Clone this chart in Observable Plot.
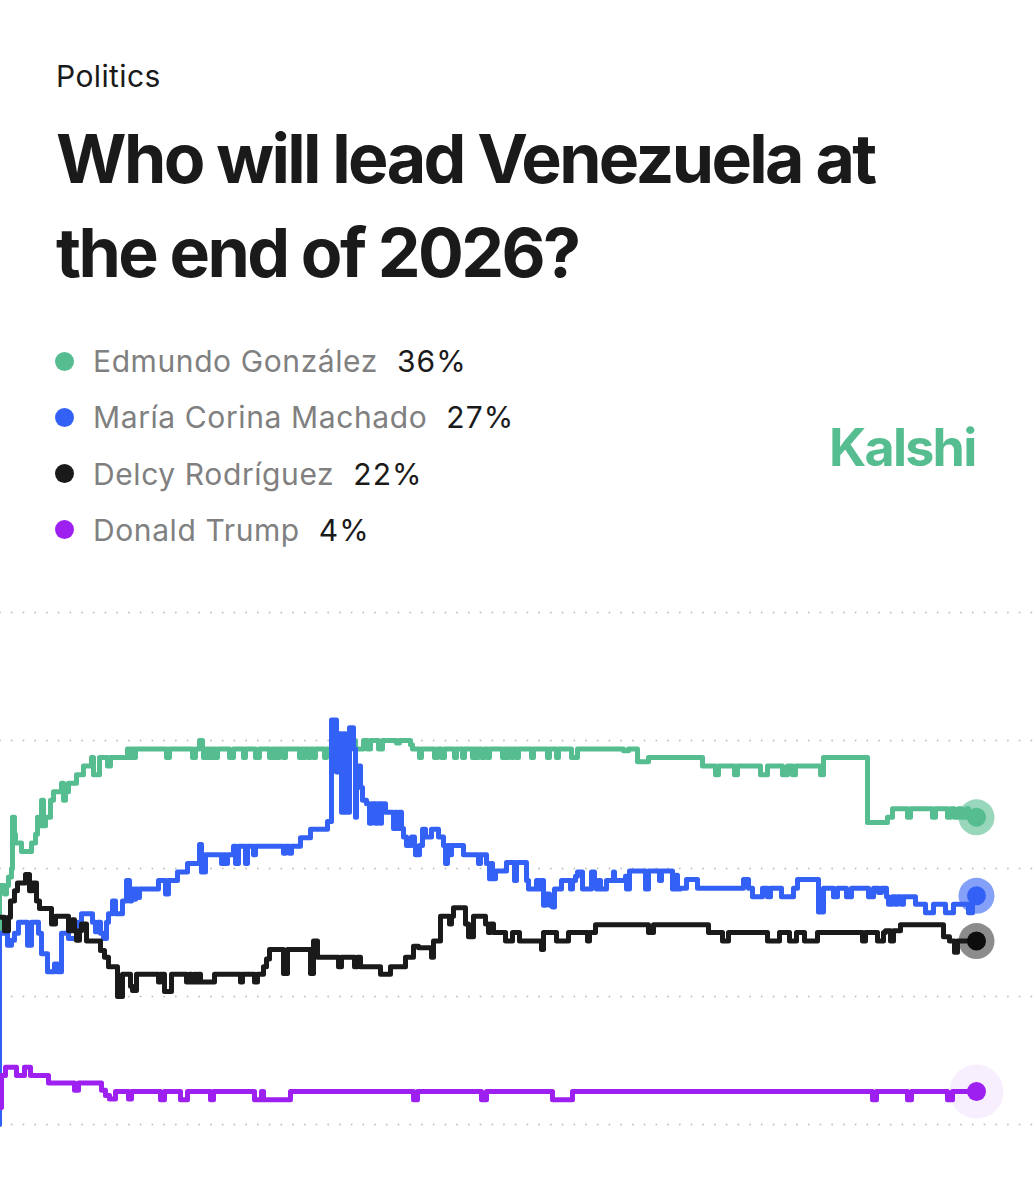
<!DOCTYPE html>
<html>
<head>
<meta charset="utf-8">
<script src="https://cdn.jsdelivr.net/npm/d3@7"></script>
<script src="https://cdn.jsdelivr.net/npm/@observablehq/plot@0.6"></script>
<style>
html,body{margin:0;padding:0;background:#fff;overflow:hidden}
body{position:relative;width:1033px;height:1200px;font-family:Inter,"Noto Sans",sans-serif;color:#1a1a1a}
.abs{position:absolute;white-space:nowrap}
#chart{position:absolute;left:0;top:590px}
#chart svg{display:block;background:transparent}
</style>
</head>
<body>
<div class="abs" style="left:56px;top:58px;font-size:30px;line-height:36px;letter-spacing:.4px">Politics</div>
<div class="abs" id="title" style="left:56px;top:111px;font-size:68px;line-height:94px;font-weight:700;letter-spacing:-2.62px;color:#1a1a1a">Who will lead Venezuela at<br>the end of 2026?</div>
<div id="legend"></div>
<div class="abs" style="left:829px;top:416px;font-size:52px;line-height:64px;font-weight:700;letter-spacing:-1.8px;color:#55bd8f">Kalshi</div>
<div id="chart"></div>
<script>
const names = ["Edmundo González", "María Corina Machado", "Delcy Rodríguez", "Donald Trump"];
const shares = ["36%", "27%", "22%", "4%"];
const colors = ["#55bd8f", "#3461f5", "#1a1a1a", "#9d20f0"];
const endValues = [36, 26.8, 21.5, 3.86];
const ringOpacity = [0.6, 0.6, 0.5, 0.07];
const ringRadius = [18, 18, 18, 27];
const gridValues = [0, 15, 30, 45, 60];

const gonzalez = [[-2,0],[-1,28],[4,27],[6,28],[8,29],[11,30],[12,36],[14,34],[15,33],[21,32],[31,33],[35,34],[37,36],[40,35],[41,38],[43,35],[45,36],[50,38],[53,39],[61,40],[63,38],[65,39],[68,40],[76,41],[83,42],[91,43],[93,41],[99,43],[107,42],[110,43],[127,44],[129,43],[131,44],[133,43],[135,44],[166,43],[169,44],[192,43],[195,44],[199,45],[202,44],[203,43],[205,44],[207,43],[209,44],[211,43],[213,44],[215,43],[217,44],[229,43],[233,44],[243,43],[245,44],[255,43],[259,44],[269,43],[271,44],[273,43],[275,44],[277,43],[279,44],[283,43],[285,44],[299,43],[301,44],[303,43],[305,44],[308,43],[310,44],[313,43],[315,44],[324,43],[326,44],[340,45],[355,44],[363,45],[367,44],[370,45],[378,44],[382,45],[396,44.7],[399,45],[410,44.5],[412,44],[419,43],[421,44],[434,43],[437,44],[441,43],[444,44],[454,43],[456,44],[462,43],[464,44],[472,43],[474,44],[476,43],[478,44],[481,43],[484,44],[487,43],[489,44],[502,43],[504,44],[506,43],[508,44],[511,43],[513,44],[516,43],[518,44],[531,43],[533,44],[547,43],[549,44],[556,43],[558,44],[571,43],[577,44],[623,43.8],[628,44],[637,42.5],[648,43],[702,42],[715,41],[718,42],[734,41],[737,42],[760,41],[767,42],[782,41],[787,42],[792,41],[795,42],[820,41],[823,43],[867,35.4],[887,36],[892,37],[907,36],[910,37],[932,36],[935,37],[947,36],[950,37],[954,36],[958,37],[961,36],[966,37],[968,36],[976,36]];

const machado = [[-2,0],[-1,22.4],[7,21],[11,21.6],[14,22.4],[18,23.7],[27,21],[31,23.7],[38,22.4],[41,20],[47,17.9],[54,18.8],[57,17.9],[61,22.4],[68,21.8],[78,23.7],[81,24.7],[92,23.7],[95,22.6],[97,23.7],[100,22.4],[103,21.8],[106,23.7],[108,24.7],[112,26.2],[115,24.7],[118,24.7],[122,26.2],[126,28.6],[129,26.2],[131,27.6],[133,26.4],[135,27.6],[137,26.6],[139,27.6],[158,28.6],[165,27],[168,28.6],[177,29.6],[187,30.6],[199,32.8],[201,29.6],[205,31.6],[221,30.6],[223,31.6],[225,30.6],[227,31.6],[233,32.6],[235,30.6],[238,32.6],[245,30.6],[247,32.6],[253,31.6],[255,32.6],[283,31.8],[285,32.6],[289,31.8],[291,32.6],[300,33.6],[310,34.6],[327,35.5],[331,47.4],[336,41.3],[338,45.8],[341,36.6],[343,45.8],[345,36.6],[349,46.5],[353,44],[355,36],[356,42],[360,39.5],[362,38],[366,37.6],[369,35.3],[371,37.6],[375,35.3],[377,37.6],[380,35.3],[381,37.6],[385,36.6],[393,34.7],[395,36.6],[397,34.7],[399,36.6],[401,34.7],[403,33.7],[406,32.7],[411,33.7],[414,32.7],[415,31.6],[419,32.7],[422,34.6],[425,33.7],[431,34.6],[438,33.7],[443,32.7],[445,30.6],[447,32.7],[449,31.6],[451,32.7],[463,31.6],[478,30.6],[480,31.6],[486,30.6],[489,28.8],[491,30.6],[492,28.8],[495,29.7],[506,30.7],[514,28.6],[516,30.7],[526,28.6],[528,27.6],[536,28.6],[538,27.6],[540,28.6],[543,25.7],[545,27],[549,25.7],[552,25.5],[554,27.6],[561,28.6],[570,27.6],[572,28.6],[575,29.1],[577,29.6],[582,27.6],[591,29.6],[594,28.6],[596,27.6],[598,28.6],[600,27.6],[606,28.6],[613,29.6],[614,28.6],[625,29.1],[626,27.6],[629,29.7],[645,27.6],[648,29.7],[659,28.6],[661,29.7],[672,27.6],[675,29.2],[677,27.6],[680,27.7],[686,28.7],[697,27.7],[743,28.7],[748,27.7],[752,26.7],[762,27.7],[767,26.7],[770,27.7],[781,26.7],[793,27.7],[797,28.7],[818,24.9],[823,27.7],[833,26.7],[837,27.7],[846,26.7],[851,27.7],[868,26.7],[873,27.7],[878,27.2],[881,27.7],[886,26.7],[888,25.8],[892,26.7],[895,25.8],[897,26.7],[901,25.8],[903,26.7],[915,25.8],[925,24.8],[933,25.8],[945,24.8],[953,25.8],[968,24.8],[972,26.8],[976,26.8]];

const rodriguez = [[0,24.3],[4,22.7],[8,24.3],[10,26.2],[14,27.4],[17,28.3],[25,29.3],[29,27.4],[32,28.3],[36,26.2],[39,25.3],[51,23.5],[55,24.4],[68,22.7],[72,24],[74,22.7],[76,21.6],[79,22.7],[81,23.5],[86,21.5],[100,20.4],[104,19.6],[108,18.5],[117,15],[122,17.6],[130,16.2],[132,15.7],[136,17.6],[158,16.7],[160,17.6],[164,15.6],[171,17.6],[186,16.7],[189,17.6],[191,16.7],[194,17.6],[196,16.7],[198,17.6],[200,16.7],[214,17.6],[240,16.7],[242,17.6],[254,16.7],[257,17.6],[263,18.5],[266,19.4],[269,20.5],[283,17.7],[287,20.5],[310,17.7],[313,21.5],[317,19.6],[338,18.5],[341,19.6],[354,18.5],[357,19.6],[360,18.5],[380,17.6],[390,18.5],[405,19.6],[413,20.9],[418,20.7],[431,19.6],[433,21.5],[440,24.4],[449,23.5],[451,24.4],[453,25.4],[465,23.5],[468,22],[473,24.4],[485,23.5],[488,22.5],[490,23.5],[493,22.5],[505,21.5],[512,22.5],[519,21.5],[541,20.5],[543,22.5],[556,21.5],[568,22.5],[587,21.5],[589,22.5],[595,23.4],[648,22.5],[653,23.4],[708,22.5],[722,21.5],[728,22.5],[767,21.5],[779,22.5],[789,21.5],[796,22.5],[804,21.5],[817,22.5],[862,21.5],[865,22.5],[877,21.5],[883,22.5],[885,22.7],[890,21.5],[893,22.7],[900,23.4],[943,22],[949,21.5],[954,20.2],[957,21.5],[976,21.5]];

const trump = [[0,2],[1,5.75],[5,6.7],[16,5.75],[24,6.7],[30,5.75],[48,4.85],[74,4],[78,4.85],[101,4],[105,3.4],[109,3],[115,3.86],[128,3],[131,3.86],[160,2.9],[164,3.86],[180,2.9],[187,3.86],[210,2.9],[213,3.86],[254,2.9],[261,3.86],[263,2.9],[290,3.86],[413,2.9],[417,3.86],[481,2.9],[486,3.86],[552,2.9],[572,3.86],[872,2.9],[876,3.86],[907,2.9],[911,3.86],[947,2.9],[952,3.86],[976,3.86]];

const series = [gonzalez, machado, rodriguez, trump];
const endX = 976;

// legend
const legend = d3.select("#legend");
names.forEach((n, i) => {
  const top = 361 + i * 56.3;
  legend.append("div").attr("class", "abs")
    .style("left", "55px").style("top", (top - 9.5) + "px")
    .style("width", "19px").style("height", "19px").style("border-radius", "50%")
    .style("background", colors[i]);
  const row = legend.append("div").attr("class", "abs")
    .style("left", "93px").style("top", (top - 20) + "px")
    .style("font-size", "30px").style("line-height", "40px").style("letter-spacing", ".6px");
  row.append("span").style("color", "#808080").text(n);
  row.append("span").style("color", "#1a1a1a").style("margin-left", "19px").style("letter-spacing", "1.1px").text(shares[i]);
});

const ends = endValues.map((v, i) => ({x: endX, y: v, i}));

const plot = Plot.plot({
  width: 1033,
  height: 610,
  marginLeft: 0, marginRight: 0, marginTop: 22, marginBottom: 76,
  x: {domain: [0, 1033], axis: null},
  y: {domain: [0, 60], axis: null},
  marks: [
    Plot.ruleY(gridValues, {stroke: "#c4c4c4", strokeWidth: 2, strokeDasharray: "0 11.72", strokeLinecap: "round"}),
    ...series.map((s, i) => Plot.line(s, {
      x: d => d[0], y: d => d[1], curve: "step-after",
      stroke: colors[i], strokeWidth: 5, strokeLinejoin: "round", strokeLinecap: "round"
    })),
    ...ends.map(d => Plot.dot([d], {x: "x", y: "y", r: ringRadius[d.i], fill: colors[d.i], fillOpacity: ringOpacity[d.i], stroke: "none"})),
    ...ends.map(d => Plot.dot([d], {x: "x", y: "y", r: 9.5, fill: colors[d.i] === "#1a1a1a" ? "#0d0d0d" : colors[d.i], stroke: "none"}))
  ]
});
document.getElementById("chart").appendChild(plot);
</script>
</body>
</html>
